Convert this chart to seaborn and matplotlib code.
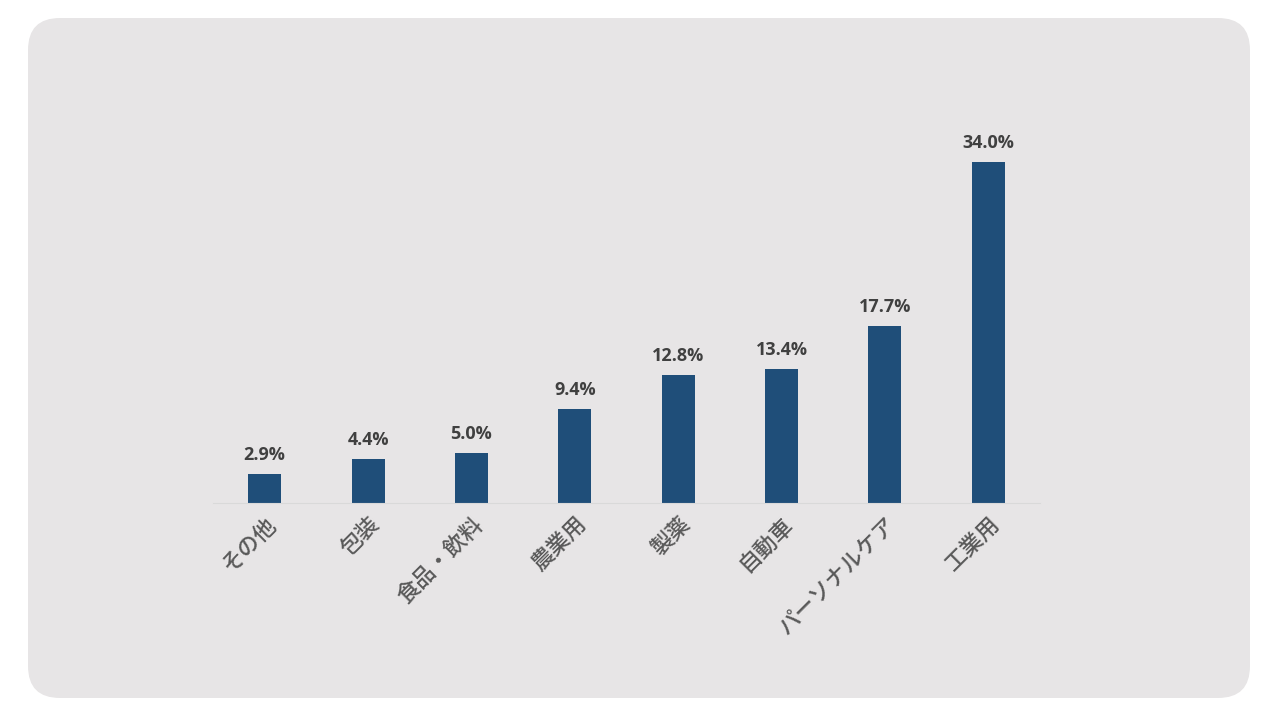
import matplotlib
matplotlib.use('Agg')
import matplotlib.pyplot as plt
import pandas as pd
import seaborn as sns
from matplotlib.patches import FancyBboxPatch

# Chart data
categories = ['その他', '包装', '食品・飲料', '農業用', '製薬', '自動車', 'パーソナルケア', '工業用']
shares = [2.9, 4.4, 5.0, 9.4, 12.8, 13.4, 17.7, 34.0]

BAR_COLOR = '#1F4E79'
PANEL_COLOR = '#E7E5E6'


def main():
    sns.set_theme(style='white')
    plt.rcParams['font.family'] = ['Noto Sans CJK JP', 'DejaVu Sans']

    df = pd.DataFrame({'category': categories, 'share': shares})

    fig = plt.figure(figsize=(12.8, 7.2), dpi=100)
    fig.patch.set_facecolor('white')

    # Rounded grey panel behind the chart
    panel = FancyBboxPatch((28 / 1280, 22 / 720), 1222 / 1280, 680 / 720,
                           boxstyle='round,pad=0,rounding_size=0.025',
                           transform=fig.transFigure, facecolor=PANEL_COLOR,
                           edgecolor='none', mutation_aspect=1280 / 720, zorder=-10)
    fig.patches.append(panel)

    ax = fig.add_axes([213 / 1280, 217 / 720, 827 / 1280, 401 / 720])
    ax.set_facecolor('none')
    ax.set_zorder(1)

    sns.barplot(data=df, x='category', y='share', color=BAR_COLOR,
                saturation=1, width=0.32, linewidth=0, ax=ax)

    ax.set_xlim(-0.5, 7.5)
    ax.set_ylim(0, 40)

    for patch, val in zip(ax.patches, shares):
        ax.annotate(f'{val:.1f}%', (patch.get_x() + patch.get_width() / 2, val),
                    xytext=(0, 7), textcoords='offset points', ha='center', va='bottom',
                    fontsize=13, fontweight='bold', color='#404040',
                    family=['Open Sans', 'DejaVu Sans'])

    for side in ['top', 'right', 'left']:
        ax.spines[side].set_visible(False)
    ax.spines['bottom'].set_color('#D9D9D9')
    ax.spines['bottom'].set_linewidth(0.8)

    ax.set_yticks([])
    ax.set_xlabel('')
    ax.set_ylabel('')
    ax.tick_params(axis='x', length=0, pad=7)
    ax.set_xticks(range(len(categories)))
    ax.set_xticklabels(categories, rotation=45, ha='right', rotation_mode='anchor',
                       fontsize=16, fontweight='medium', color='#595959')

    fig.savefig('out.png', dpi=100, facecolor='white')
    plt.close(fig)


if __name__ == '__main__':
    main()
